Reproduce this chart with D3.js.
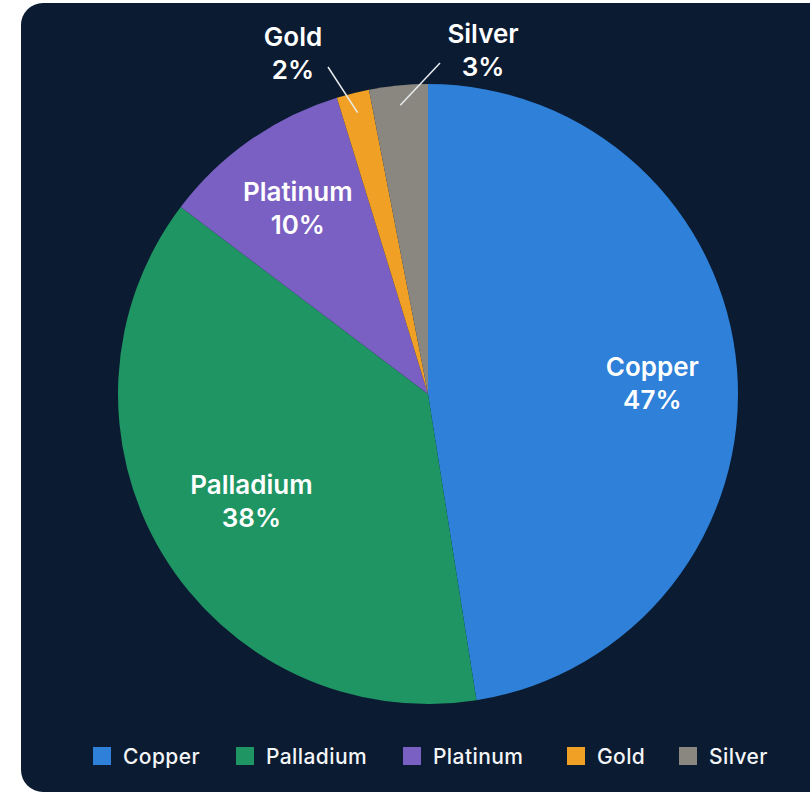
<!DOCTYPE html>
<html>
<head>
<meta charset="utf-8">
<script src="https://cdn.jsdelivr.net/npm/d3@7"></script>
<style>
  html, body { margin: 0; padding: 0; background: #ffffff; }
  svg { display: block; }
  text { font-family: Inter, "Noto Sans", sans-serif; }
</style>
</head>
<body>
<svg id="chart" width="810" height="793"></svg>
<script>
// ---- data ----
const categories = ["Copper", "Palladium", "Platinum", "Gold", "Silver"];
const values     = [47.5, 37.8, 9.95, 1.7, 3.05];
const pctLabels  = ["47%", "38%", "10%", "2%", "3%"];
const colors     = ["#2e80d8", "#1e9563", "#7a60c2", "#f0a024", "#8a8781"];

// ---- layout ----
const cx = 428, cy = 394, R = 310;
const lineGap = 33;
const insideLabel = { Copper: [225, 0], Palladium: [206, -6], Platinum: [227, -7] }; // [radius, dy]
const outsideLabelPos = { Gold: [293, 46], Silver: [483, 43] };
const leaderOuter = { Gold: [328, 67], Silver: [440, 63] };

const svg = d3.select("#chart");

svg.append("rect")
  .attr("x", 21).attr("y", 3)
  .attr("width", 830).attr("height", 789)
  .attr("rx", 22).attr("ry", 22)
  .attr("fill", "#0b1b31");

const data = categories.map((c, i) => ({ name: c, value: values[i], label: pctLabels[i], color: colors[i] }));

const pie = d3.pie().value(d => d.value).sort(null);
const arcs = pie(data);
const arc = d3.arc().innerRadius(0).outerRadius(R);

const g = svg.append("g").attr("transform", `translate(${cx},${cy})`);

g.selectAll("path.slice")
  .data(arcs)
  .join("path")
  .attr("class", "slice")
  .attr("d", arc)
  .attr("fill", d => d.data.color);

function twoLine(parent, x, y, a) {
  const t = parent.append("text")
    .attr("text-anchor", "middle")
    .attr("fill", "#ffffff")
    .attr("font-size", 26)
    .attr("font-weight", 600);
  t.append("tspan").attr("x", x).attr("y", y).text(a.data.name);
  t.append("tspan").attr("x", x).attr("y", y + lineGap).text(a.data.label);
}

// inside labels
arcs.filter(a => insideLabel[a.data.name] !== undefined).forEach(a => {
  const [r, dy] = insideLabel[a.data.name];
  const c = d3.arc().innerRadius(r).outerRadius(r).centroid(a);
  twoLine(g, c[0], c[1] + dy, a);
});

// outside labels with leader lines
arcs.filter(a => outsideLabelPos[a.data.name] !== undefined).forEach(a => {
  const inner = d3.arc().innerRadius(290).outerRadius(290).centroid(a);
  const o = leaderOuter[a.data.name];
  g.append("line")
    .attr("x1", inner[0]).attr("y1", inner[1])
    .attr("x2", o[0] - cx).attr("y2", o[1] - cy)
    .attr("stroke", "#e8ebef").attr("stroke-width", 1.5);
  const p = outsideLabelPos[a.data.name];
  twoLine(svg, p[0], p[1], a);
});

// legend
const legendX = [93, 236, 403, 567, 679];
const legend = svg.append("g");
data.forEach((d, i) => {
  legend.append("rect")
    .attr("x", legendX[i]).attr("y", 747)
    .attr("width", 18).attr("height", 18)
    .attr("fill", d.color);
  legend.append("text")
    .attr("x", legendX[i] + 30).attr("y", 764)
    .attr("fill", "#f4f5f7")
    .attr("font-size", 21)
    .attr("font-weight", 500)
    .attr("letter-spacing", 0.4)
    .text(d.name);
});
</script>
</body>
</html>
